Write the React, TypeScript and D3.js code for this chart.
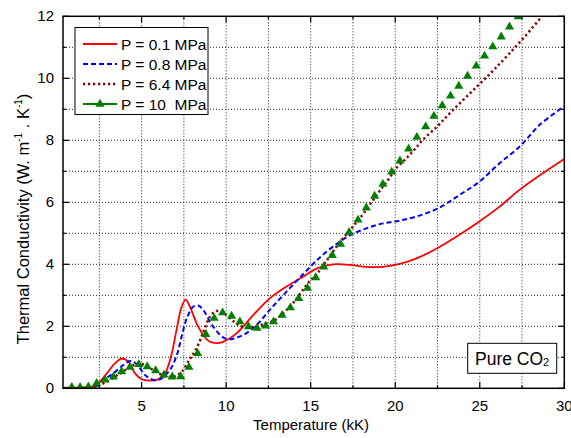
import React from "react";
import * as d3 from "d3";

// ---- data (T in kK, thermal conductivity in W m-1 K-1) ----
const redT = [0.35, 1.5, 2.0, 2.34, 2.94, 3.43, 3.82, 4.21, 4.61, 5.0, 5.49, 5.98, 6.38, 6.75, 7.07, 7.35, 7.6, 7.86, 8.25, 8.64, 9.04, 9.43, 9.82, 10.61, 11.6, 12.58, 13.57, 14.55, 15.34, 16.32, 17.31, 18.29, 19.27, 20.26, 21.3, 22.43, 23.61, 24.89, 26.17, 27.35, 28.73, 30.0];
const redV = [0.02, 0.02, 0.04, 0.11, 0.48, 0.81, 0.96, 0.86, 0.48, 0.29, 0.25, 0.29, 0.48, 1.05, 1.9, 2.6, 2.86, 2.63, 2.1, 1.72, 1.5, 1.46, 1.5, 1.77, 2.36, 2.9, 3.28, 3.6, 3.86, 4.0, 3.98, 3.92, 3.92, 4.01, 4.2, 4.5, 4.89, 5.35, 5.86, 6.4, 6.94, 7.4];

const blueT = [0.35, 2.0, 2.34, 2.74, 3.33, 3.92, 4.31, 4.71, 5.2, 5.69, 6.08, 6.67, 7.1, 7.4, 7.7, 8.05, 8.35, 8.64, 9.23, 10.02, 11.0, 11.79, 12.58, 13.57, 14.55, 15.4, 16.32, 17.31, 18.29, 19.27, 20.26, 21.24, 22.52, 23.81, 24.99, 26.17, 27.35, 28.53, 30.0];
const blueV = [0.0, 0.02, 0.07, 0.27, 0.48, 0.75, 0.88, 0.78, 0.43, 0.27, 0.29, 0.59, 1.1, 1.75, 2.3, 2.63, 2.67, 2.53, 1.99, 1.59, 1.72, 2.04, 2.53, 3.12, 3.68, 4.15, 4.57, 4.93, 5.16, 5.32, 5.41, 5.54, 5.8, 6.24, 6.67, 7.26, 7.79, 8.49, 9.1];

const dredT = [0.35, 2.0, 2.74, 3.72, 4.31, 4.74, 5.2, 5.8, 6.48, 7.0, 7.4, 7.76, 7.95, 8.25, 8.55, 8.74, 9.04, 9.33, 9.63, 9.92, 10.41, 10.91, 11.4, 11.9, 12.39, 12.88, 13.37, 13.86, 14.35, 14.84, 15.34, 15.83, 16.32, 16.82, 17.41, 17.9, 18.98, 19.57, 20.06, 20.66, 21.15, 21.64, 22.43, 23.01, 23.57, 24.15, 24.73, 25.32, 25.9, 26.7, 27.7, 28.68, 29.3];
const dredV = [0.0, 0.04, 0.16, 0.48, 0.68, 0.8, 0.75, 0.55, 0.37, 0.4, 0.55, 0.86, 1.02, 1.29, 1.67, 1.94, 2.31, 2.47, 2.5, 2.4, 2.17, 2.0, 1.97, 2.02, 2.1, 2.2, 2.42, 2.69, 3.03, 3.39, 3.68, 4.03, 4.41, 4.78, 5.16, 5.48, 6.29, 6.72, 7.1, 7.42, 7.71, 8.02, 8.42, 8.75, 9.06, 9.37, 9.68, 9.99, 10.31, 10.77, 11.37, 12.0, 12.4];

const greenT = [0.87, 1.36, 1.85, 2.34, 2.84, 3.33, 3.82, 4.31, 4.84, 5.33, 5.83, 6.32, 6.81, 7.31, 7.8, 8.31, 8.8, 9.29, 9.79, 10.32, 10.81, 11.32, 11.83, 12.33, 12.8, 13.31, 13.8, 14.29, 14.81, 15.3, 15.77, 16.28, 16.77, 17.27, 17.8, 18.29, 18.78, 19.27, 19.79, 20.28, 20.79, 21.28, 21.8, 22.29, 22.78, 23.27, 23.76, 24.28, 24.79, 25.28, 25.77, 26.27, 26.76, 27.27];
const greenV = [0.03, 0.03, 0.05, 0.16, 0.27, 0.37, 0.54, 0.68, 0.77, 0.7, 0.57, 0.43, 0.37, 0.38, 0.68, 1.13, 1.74, 2.26, 2.44, 2.33, 2.15, 1.99, 1.94, 2.01, 2.15, 2.36, 2.6, 2.9, 3.23, 3.57, 3.92, 4.29, 4.65, 5.03, 5.43, 5.82, 6.2, 6.59, 6.98, 7.34, 7.72, 8.1, 8.44, 8.78, 9.12, 9.43, 9.75, 10.07, 10.4, 10.72, 11.02, 11.34, 11.66, 11.99];

const xTicks = [5, 10, 15, 20, 25, 30];
const yTicks = [0, 2, 4, 6, 8, 10, 12];
const legendLabels = ["P = 0.1 MPa", "P = 0.8 MPa", "P = 6.4 MPa", "P = 10  MPa"];

const W = 571, H = 438;
const L = 63, R = 564.3, T = 16.3, B = 388.3;
const FONT = "'Liberation Sans', Arial, Helvetica, sans-serif";

export default function App() {
  const x = d3.scaleLinear().domain([0.35, 30]).range([L, R]);
  const y = d3.scaleLinear().domain([0, 12]).range([B, T]);

  const line = d3.line<[number, number]>()
    .x((d) => x(d[0]))
    .y((d) => y(d[1]))
    .curve(d3.curveCatmullRom.alpha(0.5));

  const zip = (a: number[], b: number[]) => a.map((v, i) => [v, b[i]] as [number, number]);

  const xGrid = d3.range(2.5, 30, 2.5);
  const yGrid = d3.range(1, 12, 1);
  const xMinor = d3.range(2.5, 30, 5);
  const yMinor = d3.range(1, 12, 2);
  const tri = d3.symbol().type(d3.symbolTriangle).size(36)() as string;

  const legY = [44, 64, 84, 104];

  return (
    <svg width={W} height={H} style={{ position: "absolute", left: 0, top: 0, background: "#fff" }} fontFamily={FONT}>
      <defs>
        <clipPath id="plot">
          <rect x={L} y={T} width={R - L} height={B - T} />
        </clipPath>
      </defs>
      <rect x={0} y={0} width={W} height={H} fill="#fff" />
      {/* grid */}
      <g stroke="#222" strokeWidth={1} strokeDasharray="1,2">
        {xGrid.map((v) => (
          <line key={"gx" + v} x1={x(v)} x2={x(v)} y1={T} y2={B} />
        ))}
        {yGrid.map((v) => (
          <line key={"gy" + v} x1={L} x2={R} y1={y(v)} y2={y(v)} />
        ))}
      </g>
      {/* data */}
      <g clipPath="url(#plot)" fill="none">
        <path d={line(zip(redT, redV)) || ""} stroke="#ff0000" strokeWidth={1.8} />
        <path d={line(zip(blueT, blueV)) || ""} stroke="#0000ff" strokeWidth={2} strokeDasharray="5,3" />
        <path d={line(zip(dredT, dredV)) || ""} stroke="#8b0000" strokeWidth={2.5} strokeDasharray="2.2,2.8" />
        {greenT.map((t, i) => (
          <path key={"g" + i} d={tri} transform={`translate(${x(t)},${y(greenV[i])})`} fill="#008000" />
        ))}
      </g>
      {/* frame */}
      <rect x={L} y={T} width={R - L} height={B - T} fill="none" stroke="#000" strokeWidth={1.5} />
      {/* ticks */}
      <g stroke="#000" strokeWidth={1.2}>
        {xTicks.map((v) => (
          <g key={"xt" + v}>
            <line x1={x(v)} x2={x(v)} y1={B} y2={B - 6} />
            <line x1={x(v)} x2={x(v)} y1={T} y2={T + 6} />
          </g>
        ))}
        {xMinor.map((v) => (
          <g key={"xm" + v}>
            <line x1={x(v)} x2={x(v)} y1={B} y2={B - 3} />
            <line x1={x(v)} x2={x(v)} y1={T} y2={T + 3} />
          </g>
        ))}
        {yTicks.map((v) => (
          <g key={"yt" + v}>
            <line x1={L} x2={L + 6} y1={y(v)} y2={y(v)} />
            <line x1={R} x2={R - 6} y1={y(v)} y2={y(v)} />
          </g>
        ))}
        {yMinor.map((v) => (
          <g key={"ym" + v}>
            <line x1={L} x2={L + 3} y1={y(v)} y2={y(v)} />
            <line x1={R} x2={R - 3} y1={y(v)} y2={y(v)} />
          </g>
        ))}
      </g>
      {/* tick labels */}
      <g fontSize={15} fill="#000">
        {xTicks.map((v) => (
          <text key={"xl" + v} x={x(v)} y={411} textAnchor="middle">{v}</text>
        ))}
        {yTicks.map((v) => (
          <text key={"yl" + v} x={54} y={y(v) + 5} textAnchor="end">{v}</text>
        ))}
      </g>
      {/* axis titles */}
      <text x={311} y={430} textAnchor="middle" fontSize={15}>Temperature (kK)</text>
      <text transform="translate(29,219) rotate(-90)" textAnchor="middle" fontSize={16.5}>
        Thermal Conductivity (W. m<tspan dy={-7} fontSize={10}>-1</tspan>
        <tspan dy={7}> . K</tspan>
        <tspan dy={-7} fontSize={10}>-1</tspan>
        <tspan dy={7}>)</tspan>
      </text>
      {/* legend */}
      <rect x={75} y={27.5} width={133} height={87} fill="#fff" stroke="#000" strokeWidth={1} />
      <line x1={83} x2={117} y1={legY[0]} y2={legY[0]} stroke="#ff0000" strokeWidth={1.8} />
      <line x1={83} x2={117} y1={legY[1]} y2={legY[1]} stroke="#0000ff" strokeWidth={2} strokeDasharray="5,3" />
      <line x1={83} x2={117} y1={legY[2]} y2={legY[2]} stroke="#8b0000" strokeWidth={2.5} strokeDasharray="2.2,2.8" />
      <line x1={83} x2={117} y1={legY[3]} y2={legY[3]} stroke="#008000" strokeWidth={1.8} />
      <path d={tri} transform={`translate(100,${legY[3]})`} fill="#008000" />
      {legendLabels.map((s, i) => (
        <text key={"lg" + i} x={121} y={legY[i] + 5.5} fontSize={15.5} style={{ whiteSpace: "pre" }}>{s}</text>
      ))}
      {/* annotation */}
      <rect x={467.7} y={343.3} width={89} height={30} fill="#fff" stroke="#000" strokeWidth={1} />
      <text x={475} y={365} fontSize={17.5}>
        Pure CO<tspan fontSize={11} dy={1}>2</tspan>
      </text>
    </svg>
  );
}
